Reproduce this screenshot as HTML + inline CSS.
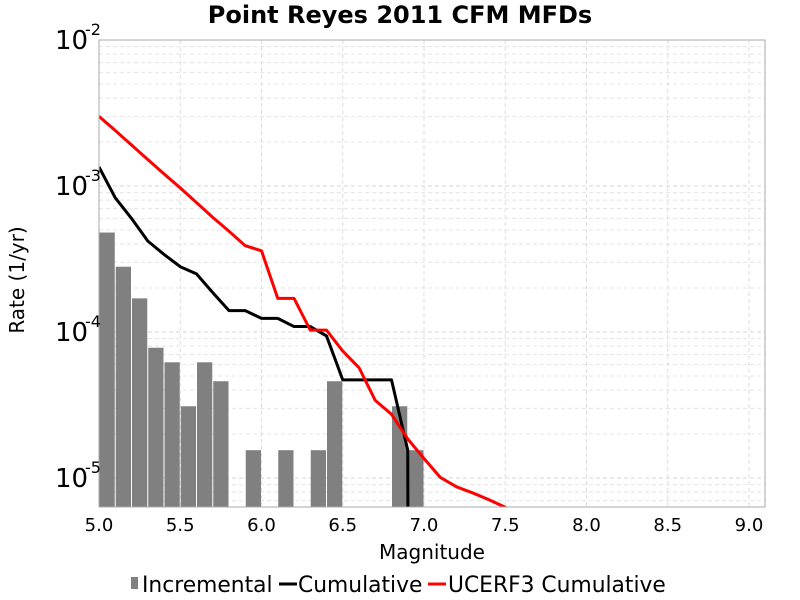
<!DOCTYPE html>
<html><head><meta charset="utf-8"><style>
html,body{margin:0;padding:0;background:#fff;width:800px;height:600px;overflow:hidden;}
svg{display:block;font-family:"DejaVu Sans","Liberation Sans",sans-serif;overflow:hidden;}
</style></head><body>
<svg id="chart" width="800" height="600" viewBox="0 0 800 600">
<text x="400" y="23" text-anchor="middle" font-size="24" font-weight="bold">Point Reyes 2011 CFM MFDs</text>
<g id="grid"></g>
<g id="bars"></g>
<g id="lines"></g>
<rect x="99" y="40" width="666" height="467" fill="none" stroke="#aaa" stroke-width="1"/>
<g id="xticks" font-size="18"></g>
<g id="yticks"></g>
<text x="432" y="559" text-anchor="middle" font-size="20">Magnitude</text>
<text transform="translate(24,280) rotate(-90)" text-anchor="middle" font-size="20">Rate (1/yr)</text>
<g font-size="21.8">
<rect x="131" y="577" width="7" height="12" fill="#808080"/>
<text x="142" y="592">Incremental</text>
<line x1="279" y1="584" x2="297" y2="584" stroke="#000" stroke-width="3"/>
<text x="298" y="592">Cumulative</text>
<line x1="428" y1="584" x2="446" y2="584" stroke="#f00" stroke-width="3"/>
<text x="448" y="592">UCERF3 Cumulative</text>
</g>
</svg>
<script>
const barMags=[5.0,5.1,5.2,5.3,5.4,5.5,5.6,5.7,5.9,6.1,6.3,6.4,6.8,6.9];
const barRates=[4.8e-4,2.8e-4,1.7e-4,7.8e-5,6.2e-5,3.1e-5,6.2e-5,4.6e-5,1.55e-5,1.55e-5,1.55e-5,4.6e-5,3.1e-5,1.55e-5];
const cumMags=[5.0,5.1,5.2,5.3,5.4,5.5,5.6,5.7,5.8,5.9,6.0,6.1,6.2,6.3,6.4,6.5,6.6,6.7,6.8,6.9,6.905];
const cumRates=[1.35e-3,8.3e-4,6.0e-4,4.2e-4,3.4e-4,2.8e-4,2.5e-4,1.86e-4,1.4e-4,1.4e-4,1.24e-4,1.24e-4,1.09e-4,1.09e-4,9.4e-5,4.7e-5,4.7e-5,4.7e-5,4.7e-5,1.55e-5,1e-7];
const u3Mags=[5.0,5.1,5.2,5.3,5.4,5.5,5.6,5.7,5.8,5.9,6.0,6.1,6.2,6.3,6.4,6.5,6.6,6.7,6.8,6.9,7.0,7.1,7.2,7.3,7.4,7.5,7.6];
const u3Rates=[3.0e-3,2.4e-3,1.91e-3,1.52e-3,1.21e-3,9.7e-4,7.7e-4,6.1e-4,4.9e-4,3.9e-4,3.6e-4,1.7e-4,1.7e-4,1.03e-4,1.03e-4,7.4e-5,5.7e-5,3.4e-5,2.73e-5,1.85e-5,1.36e-5,1.01e-5,8.7e-6,7.9e-6,7.1e-6,6.3e-6,5.5e-6];
const xTicks=["5.0","5.5","6.0","6.5","7.0","7.5","8.0","8.5","9.0"];
const yDecades=[-2,-3,-4,-5];

const NS="http://www.w3.org/2000/svg";
const X0=99,X1=765,Y0=40,Y1=507;
const xs=m=>99+(m-5)*162.5;
const ys=r=>40+(-2-Math.log10(r))*146;
function mk(tag,attrs,parent){const e=document.createElementNS(NS,tag);for(const k in attrs)e.setAttribute(k,attrs[k]);parent.appendChild(e);return e;}
const svg=document.getElementById('chart');
const defs=mk('defs',{},svg);
const cp=mk('clipPath',{id:'clip'},defs);
mk('rect',{x:X0,y:Y0,width:X1-X0,height:Y1-Y0},cp);

const grid=document.getElementById('grid');
xTicks.forEach(t=>{const x=xs(parseFloat(t));
 const l=mk('line',{x1:x,x2:x,y1:Y0,y2:Y1,stroke:'#ddd','stroke-dasharray':'4,3'},grid);
 });
for(let d=-6;d<=-3;d++){for(let k=1;k<=9;k++){const r=k*Math.pow(10,d);const y=ys(r);if(y<Y0||y>Y1)continue;
 const l=mk('line',{x1:X0,x2:X1,y1:y,y2:y,stroke:k==1?'#d4d4d4':'#e4e4e4','stroke-dasharray':'4,3'},grid);
 }}

const bars=document.getElementById('bars');
barMags.forEach((m,i)=>{const x=xs(m),w=xs(m+0.1)-x,y=ys(barRates[i]);
 const b=mk('rect',{x:x+0.5,y:y,width:w-1,height:Y1-y,fill:'#808080'},bars);
 });

const lines=document.getElementById('lines');
function line(mags,rates,color,name){const p=mk('polyline',{points:mags.map((m,i)=>xs(m)+','+ys(rates[i])).join(' '),fill:'none',stroke:color,'stroke-width':3,'stroke-linejoin':'round','clip-path':'url(#clip)'},lines);
 }
line(cumMags,cumRates,'#000','cumulative-line');
line(u3Mags,u3Rates,'#f00','ucerf3-cumulative-line');

const xt=document.getElementById('xticks');
xTicks.forEach(t=>{const e=mk('text',{x:xs(parseFloat(t)),y:531,'text-anchor':'middle'},xt);e.textContent=t;
 });
const yt=document.getElementById('yticks');
yDecades.forEach(d=>{const y=ys(Math.pow(10,d));
 const e=mk('text',{x:55,y:y+9,'font-size':26},yt);e.textContent='10';
 
 const s=mk('text',{x:85,y:y-5,'font-size':16},yt);s.textContent=String(d);
 });
</script>
</body></html>
